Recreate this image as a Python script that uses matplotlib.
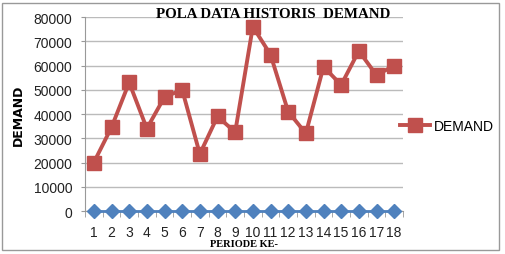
import matplotlib.pyplot as plt
from matplotlib.patches import Rectangle

periods = list(range(1, 19))
demand = [20000, 34500, 53000, 34000, 47000, 50000, 23500, 39000, 32500,
          76000, 64500, 41000, 32000, 59500, 52000, 66000, 56000, 60000]
baseline = [0] * 18
yticks = [0, 10000, 20000, 30000, 40000, 50000, 60000, 70000, 80000]

plt.rcParams['font.family'] = ['Liberation Sans', 'DejaVu Sans']

fig = plt.figure(figsize=(5.05, 2.55), dpi=100)
ax = fig.add_axes([85 / 505, 1 - 212 / 255, 318 / 505, 194 / 255])

ax.plot(periods, baseline, color='#4F81BD', lw=2, marker='D', ms=7, zorder=3, clip_on=False)
ax.plot(periods, demand, color='#C0504D', lw=2.8, marker='s', ms=9.5,
        label='DEMAND', zorder=4, clip_on=False)

ax.set_xlim(0.5, 18.5)
ax.set_ylim(0, 80000)
ax.set_yticks(yticks)
ax.set_yticklabels([str(v) for v in yticks])
ax.set_xticks(periods)
ax.set_xticks([p + 0.5 for p in range(0, 19)], minor=True)
ax.tick_params(axis='x', which='major', length=0, pad=10, labelsize=10, labelcolor='#222222')
ax.tick_params(axis='x', which='minor', length=4, color='#999999', direction='out')
ax.tick_params(axis='y', length=3, color='#999999', labelsize=10, labelcolor='#222222', pad=6)
ax.grid(axis='y', color='#BBBBBB', lw=1)
ax.set_axisbelow(True)
for s in ['top', 'right']:
    ax.spines[s].set_visible(False)
for s in ['left', 'bottom']:
    ax.spines[s].set_color('#999999')
ax.spines['bottom'].set_zorder(2)

ax.set_ylabel('DEMAND', fontsize=9, fontweight='bold', family='DejaVu Sans', labelpad=6)
ax.set_xlabel('PERIODE KE-', fontsize=7.5, fontweight='bold', family='Liberation Serif', labelpad=0)

fig.text(273 / 505, 1 - 15 / 255, 'POLA DATA HISTORIS  DEMAND', ha='center', va='center',
         fontsize=10.8, fontweight='bold', family='Liberation Serif')

ax.legend(loc='center left', bbox_to_anchor=(0.95, 0.44), frameon=False, fontsize=10,
          handlelength=2.2, handletextpad=0.3, borderaxespad=0.5)

fig.patches.append(Rectangle((2 / 505, 4 / 255), 497 / 505, 247 / 255, transform=fig.transFigure,
                             fill=False, edgecolor='#999999', lw=1))

fig.savefig('out.png', dpi=100)
